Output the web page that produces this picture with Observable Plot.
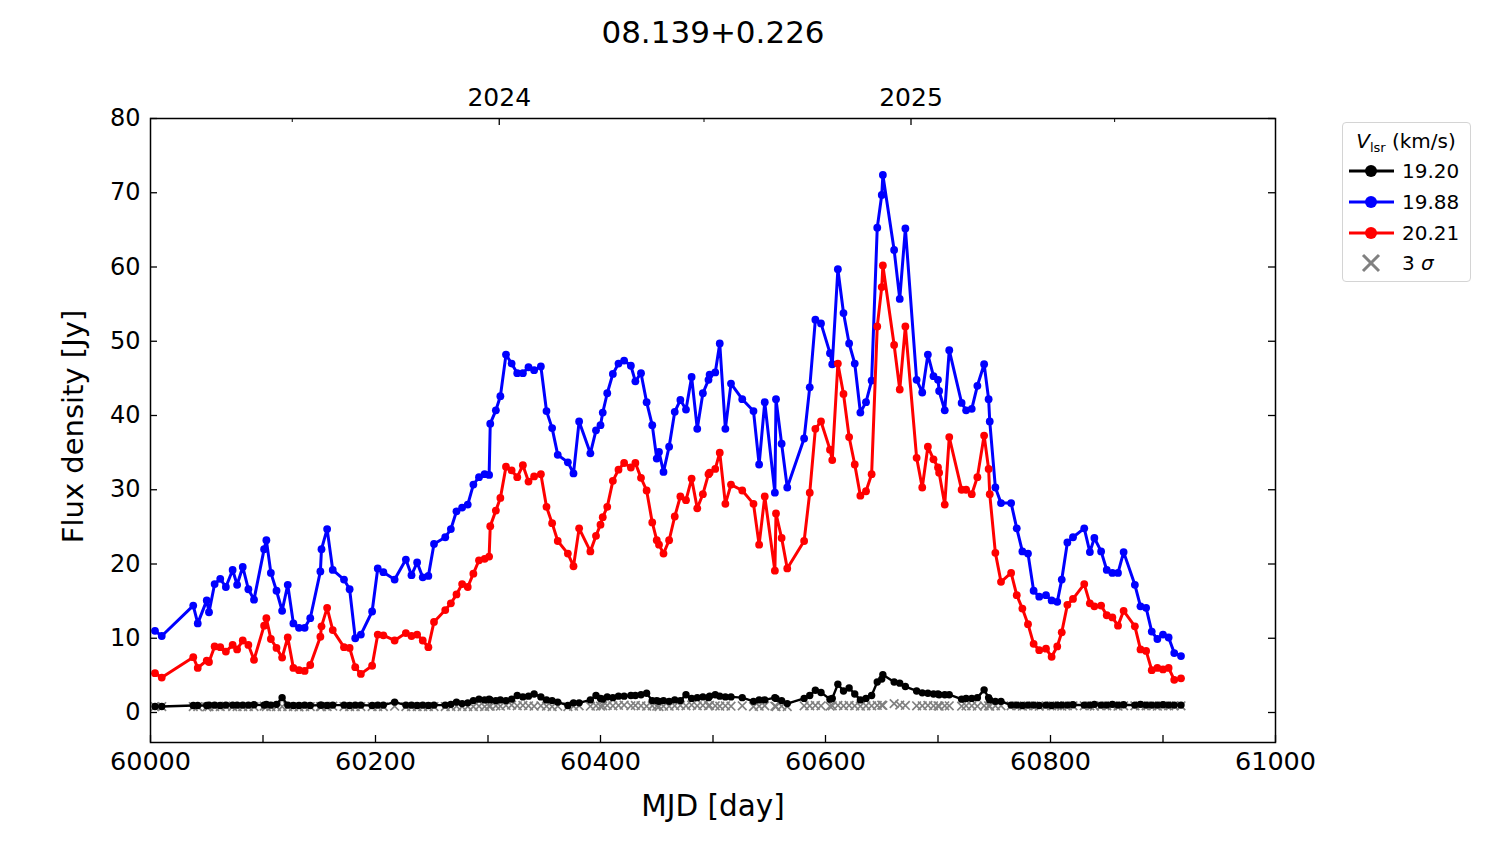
<!DOCTYPE html>
<html>
<head>
<meta charset="utf-8">
<script src="https://cdn.jsdelivr.net/npm/d3@7"></script>
<script src="https://cdn.jsdelivr.net/npm/@observablehq/plot@0.6"></script>
<style>
  html, body { margin: 0; padding: 0; background: #fff; }
  #wrap { position: relative; width: 1500px; height: 844px; font-family: "DejaVu Sans", sans-serif; }
  #legend { position: absolute; left: 1342px; top: 122px; width: 127px; height: 158px;
            border: 1.3px solid #d4d4d4; border-radius: 4px; background: #fff; }
</style>
</head>
<body>
<div id="wrap"></div>
<script>
// ---- data ----
const mjd = [60004,60010,60038,60042,60050,60052,60057,60062,60067,60073,60077,60082,60087,60092,60101,60103,60107,60112,60117,60122,60127,60132,60137,60142,60151,60152,60157,60162,60172,60177,60182,60187,60197,60202,60207,60217,60227,60232,60237,60242,60247,60252,60262,60267,60272,60277,60282,60287,60292,60297,60301,60302,60307,60311,60316,60321,60326,60331,60336,60341,60347,60352,60357,60362,60371,60376,60381,60391,60396,60400,60402,60406,60411,60416,60421,60427,60431,60436,60441,60446,60450,60452,60456,60461,60466,60471,60476,60481,60486,60491,60496,60497,60502,60506,60511,60516,60526,60536,60541,60546,60555,60556,60561,60566,60581,60586,60591,60596,60604,60606,60611,60616,60621,60626,60631,60636,60641,60646,60650,60651,60661,60666,60671,60681,60686,60691,60696,60700,60701,60706,60710,60721,60725,60730,60735,60741,60745,60746,60751,60756,60765,60770,60775,60780,60785,60790,60796,60801,60806,60810,60815,60820,60830,60835,60839,60845,60850,60855,60860,60865,60875,60880,60885,60890,60895,60900,60905,60910,60916];

const flux1988 = [11.0,10.3,14.4,12.0,15.1,13.5,17.3,18.0,16.9,19.2,17.2,19.6,16.6,15.2,22.0,23.2,18.8,16.4,13.7,17.2,12.0,11.4,11.4,12.7,19.0,22.0,24.7,19.2,17.9,16.6,10.0,10.5,13.6,19.4,18.9,17.9,20.6,18.5,20.2,18.2,18.4,22.7,23.6,24.7,27.1,27.6,28.0,30.7,31.7,32.1,32.0,38.9,40.7,42.6,48.2,47.0,45.7,45.7,46.5,46.1,46.6,40.6,38.3,34.7,33.7,32.2,39.2,34.9,38.0,38.7,40.4,43.0,45.6,47.0,47.4,46.7,44.6,45.7,41.8,38.7,34.2,35.1,32.4,35.8,40.5,42.1,40.8,45.2,38.2,43.0,44.8,45.5,45.8,49.7,38.2,44.3,42.2,40.6,33.4,41.8,29.6,42.2,36.2,30.3,36.9,43.8,52.9,52.4,48.4,46.9,59.7,53.8,49.7,47.0,40.4,41.8,44.7,65.3,69.7,72.4,62.3,55.7,65.2,44.8,43.1,48.2,45.3,44.8,43.3,40.7,48.8,41.7,40.7,40.9,44.0,46.9,42.2,39.2,30.3,28.2,28.2,24.8,21.7,21.4,16.4,15.6,15.8,15.1,14.9,17.9,22.9,23.6,24.8,21.6,23.5,21.7,19.2,18.8,18.8,21.6,17.2,14.3,14.1,10.9,9.9,10.5,10.1,8.0,7.6];

const flux2021 = [5.3,4.7,7.45,6.0,7.0,6.8,8.9,8.8,8.2,9.1,8.5,9.7,9.1,7.1,11.7,12.7,9.9,8.7,7.4,10.1,6.0,5.7,5.6,6.4,10.2,11.6,14.1,11.1,8.8,8.7,6.1,5.2,6.3,10.5,10.4,9.7,10.7,10.3,10.5,9.7,8.8,12.2,13.8,14.7,15.9,17.3,16.9,18.7,20.5,20.7,21.0,25.1,27.2,28.9,33.1,32.6,31.7,33.3,31.1,31.8,32.1,27.7,25.5,23.1,21.4,19.7,24.8,21.7,23.8,25.3,26.3,27.7,31.2,32.7,33.6,33.0,33.6,31.6,29.9,25.6,23.2,22.6,21.4,23.2,26.4,29.1,28.6,31.5,27.5,29.4,32.1,32.3,32.8,35.0,28.1,30.7,29.9,28.1,22.6,29.1,19.1,26.8,23.5,19.4,23.1,29.6,38.2,39.2,35.4,34.0,47.0,42.9,37.1,33.4,29.2,29.8,32.1,52.0,57.3,60.2,49.5,43.5,52.0,34.3,30.3,35.8,34.1,33.0,32.3,28.0,37.1,30.0,30.0,29.4,31.7,37.3,32.8,29.4,21.5,17.6,18.8,15.8,14.0,11.9,9.25,8.4,8.6,7.5,8.9,10.8,14.5,15.3,17.3,14.7,14.3,14.4,13.1,12.8,11.7,13.7,11.6,8.5,8.3,5.7,6.0,5.8,6.0,4.4,4.6];

const flux1920 = [0.8,0.8,0.95,0.95,0.95,1.0,1.0,0.95,1.0,1.0,1.0,1.0,1.0,1.05,1.0,1.1,1.0,1.1,2.0,1.0,0.95,0.95,1.0,0.95,1.0,1.0,0.95,1.0,1.0,0.95,1.0,1.0,0.95,1.0,1.0,1.4,1.0,1.0,0.95,1.0,0.95,1.0,1.0,1.1,1.4,1.2,1.3,1.6,1.8,1.7,1.8,1.7,1.6,1.7,1.6,1.8,2.3,2.1,2.2,2.5,2.1,1.7,1.6,1.4,0.95,1.3,1.3,1.7,2.3,1.9,1.8,2.1,2.0,2.2,2.2,2.3,2.3,2.4,2.6,1.6,1.6,1.5,1.6,1.5,1.7,1.6,2.4,1.9,2.0,2.1,2.0,2.2,2.4,2.2,2.1,2.1,2.0,1.5,1.7,1.7,2.0,1.9,1.6,1.2,1.9,2.3,3.0,2.7,1.8,1.9,3.8,2.9,3.3,2.5,1.7,1.9,2.3,4.1,4.5,5.1,4.1,3.95,3.5,2.9,2.65,2.6,2.5,2.5,2.4,2.4,2.4,1.8,1.9,1.9,2.0,3.05,2.0,1.7,1.5,1.5,1.0,1.0,0.95,1.0,1.0,0.95,1.0,0.95,1.0,1.0,1.0,1.05,1.0,1.0,1.1,1.0,1.0,1.1,1.0,1.05,1.0,1.1,1.0,1.0,1.0,1.05,1.0,1.0,1.0];

const sigma3 = [0.8,0.8,0.8,0.8,0.75,0.8,0.8,0.8,0.85,0.8,0.8,0.8,0.8,0.8,0.85,0.8,0.8,0.8,0.8,0.8,0.8,0.75,0.8,0.8,0.8,0.8,0.8,0.85,0.8,0.8,0.8,0.8,0.8,0.8,0.8,0.85,0.8,0.8,0.8,0.8,0.8,0.8,0.8,0.8,0.85,0.8,0.8,0.8,0.85,0.8,0.85,0.85,0.9,0.85,0.95,1.0,0.9,0.95,0.9,0.85,0.9,0.85,0.8,0.85,0.8,0.85,0.9,0.85,0.9,0.85,0.9,0.95,0.9,0.95,1.0,0.9,0.95,0.9,0.85,0.9,0.85,0.8,0.85,0.85,0.9,0.95,0.9,1.0,0.9,0.95,0.9,0.95,0.9,0.85,0.9,0.85,0.9,0.8,0.85,0.9,0.85,0.8,0.85,0.8,0.9,0.9,0.95,0.9,0.85,0.9,0.95,0.9,0.95,0.9,0.85,0.9,0.9,0.95,1.0,0.95,1.2,1.0,0.95,0.9,0.9,0.95,0.9,0.9,0.85,0.9,0.9,0.85,0.9,0.9,0.85,0.9,0.9,0.85,0.9,0.9,0.9,0.9,0.85,0.9,0.9,0.85,0.9,0.9,0.9,0.85,0.9,0.9,0.9,0.9,0.85,0.9,0.9,0.9,0.85,0.9,0.9,0.9,0.9,0.9,0.85,0.9,0.9,0.9,0.9];

// ---- axes / labels ----
const xTicks = d3.range(60000, 61001, 100);
const xLabelTicks = [60000, 60200, 60400, 60600, 60800, 61000];
const yTicks = [0, 10, 20, 30, 40, 50, 60, 70, 80];
const yearTicks = [60310, 60676];
const yearLabels = ["2024", "2025"];
const halfYearTicks = [60126, 60492, 60857];
const title = "08.139+0.226";
const xLabel = "MJD [day]";
const yLabel = "Flux density [Jy]";

const series = [
  {name: "19.20", values: flux1920, color: "black", r: 3.7, sw: 2.4},
  {name: "19.88", values: flux1988, color: "#0000ff", r: 3.9, sw: 3},
  {name: "20.21", values: flux2021, color: "#ff0000", r: 3.9, sw: 3}
];
const rows = s => mjd.map((m, i) => ({mjd: m, flux: s.values[i]}));
const sigmaRows = mjd.map((m, i) => ({mjd: m, flux: sigma3[i]}));

// ---- layout ----
const W = 1500, H = 844;
const mL = 150, mR = 225, mT = 118, mB = 102;
const xDom = [60000, 61000], yDom = [-4.04, 80];
const kx = (W - mL - mR) / (xDom[1] - xDom[0]);
const ky = (H - mT - mB) / (yDom[1] - yDom[0]);
const major = 7, minor = 4;

const marks = [
  Plot.dot(sigmaRows, {x: "mjd", y: "flux", symbol: "times", r: 4, stroke: "#808080", strokeWidth: 1.7}),
];
for (const s of series) {
  marks.push(Plot.line(rows(s), {x: "mjd", y: "flux", stroke: s.color, strokeWidth: s.sw}));
  marks.push(Plot.dot(rows(s), {x: "mjd", y: "flux", r: s.r, fill: s.color, stroke: "none"}));
}
marks.push(
  // inward ticks
  Plot.ruleX(xTicks, {x: d => d, y1: yDom[0], y2: yDom[0] + major / ky, stroke: "black", strokeWidth: 1.3}),
  Plot.ruleY(yTicks, {y: d => d, x1: xDom[0], x2: xDom[0] + major / kx, stroke: "black", strokeWidth: 1.3}),
  Plot.ruleY(yTicks, {y: d => d, x1: xDom[1] - major / kx, x2: xDom[1], stroke: "black", strokeWidth: 1.3}),
  Plot.ruleX(yearTicks, {x: d => d, y1: yDom[1] - major / ky, y2: yDom[1], stroke: "black", strokeWidth: 1.3}),
  Plot.ruleX(halfYearTicks, {x: d => d, y1: yDom[1] - minor / ky, y2: yDom[1], stroke: "black", strokeWidth: 1}),
  // tick labels
  Plot.axisX(xLabelTicks, {anchor: "bottom", tickSize: 0, tickPadding: 9, fontSize: 25.5, label: null, tickFormat: d => String(d)}),
  Plot.axisY(yTicks, {anchor: "left", tickSize: 0, tickPadding: 10, fontSize: 24, label: null, tickFormat: d => String(d)}),
  Plot.axisX(yearTicks, {anchor: "top", tickSize: 0, tickPadding: 13, fontSize: 25, label: null, tickFormat: d => yearLabels[yearTicks.indexOf(d)]}),
  Plot.frame({stroke: "black", strokeWidth: 1.5}),
  // titles
  Plot.text([title], {text: d => d, frameAnchor: "top", lineAnchor: "middle", dy: -85, fontSize: 31}),
  Plot.text([xLabel], {text: d => d, frameAnchor: "bottom", lineAnchor: "middle", dy: 64, fontSize: 29.5}),
  Plot.text([yLabel], {text: d => d, frameAnchor: "left", textAnchor: "middle", lineAnchor: "middle", dx: -77, dy: -4, rotate: -90, fontSize: 29})
);

const chart = Plot.plot({
  width: W, height: H,
  marginLeft: mL, marginRight: mR, marginTop: mT, marginBottom: mB,
  x: {domain: xDom},
  y: {domain: yDom},
  style: {fontFamily: "DejaVu Sans, sans-serif", fontSize: "24px", color: "black", background: "white", overflow: "visible"},
  marks
});
const wrap = document.getElementById("wrap");
wrap.appendChild(chart);

// ---- legend ----
const legend = document.createElement("div");
legend.id = "legend";
const lsvg = d3.select(legend).append("svg").attr("width", 127).attr("height", 158)
  .style("font-family", "DejaVu Sans, sans-serif");
const lt = lsvg.append("text").attr("x", 63).attr("y", 25).attr("text-anchor", "middle").attr("font-size", 20);
lt.append("tspan").attr("font-style", "italic").text("V");
lt.append("tspan").attr("font-size", 13).attr("dy", 4).text("lsr");
lt.append("tspan").attr("dy", -4).text(" (km/s)");
const rowY = [48, 79, 110];
series.forEach((s, i) => {
  const g = lsvg.append("g").attr("transform", `translate(0,${rowY[i]})`);
  g.append("line").attr("x1", 6).attr("x2", 51).attr("y1", 0).attr("y2", 0).attr("stroke", s.color).attr("stroke-width", 3);
  g.append("circle").attr("cx", 28).attr("cy", 0).attr("r", 6).attr("fill", s.color);
  g.append("text").attr("x", 59).attr("y", 7).attr("font-size", 20).text(s.name);
});
const gs = lsvg.append("g").attr("transform", "translate(0,140)");
gs.append("path").attr("d", "M20,-8L36,8M20,8L36,-8").attr("stroke", "#808080").attr("stroke-width", 3).attr("fill", "none");
const st = gs.append("text").attr("x", 59).attr("y", 7).attr("font-size", 20);
st.append("tspan").text("3 ");
st.append("tspan").attr("font-style", "italic").text("σ");
wrap.appendChild(legend);
</script>
</body>
</html>
